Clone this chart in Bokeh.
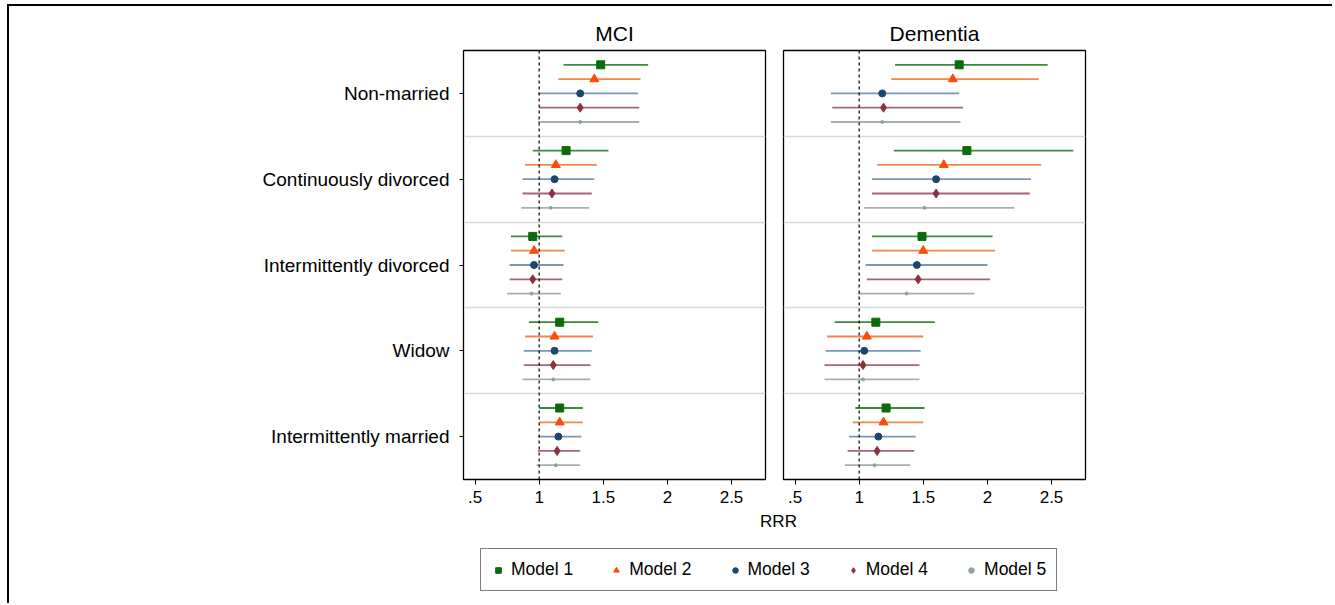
from bokeh.plotting import figure
from bokeh.models import (Range1d, FixedTicker, Span, Label, Legend, LegendItem,
                          ColumnDataSource)
from bokeh.layouts import row, column
from bokeh.embed import file_html
from bokeh.resources import INLINE

FONT = "Liberation Sans"

categories = ["Non-married", "Continuously divorced", "Intermittently divorced",
              "Widow", "Intermittently married"]
models = ["Model 1", "Model 2", "Model 3", "Model 4", "Model 5"]

# MCI: point estimates and confidence bounds, rows = categories, cols = models
mci_rrr = [[1.48, 1.43, 1.32, 1.32, 1.32],
           [1.21, 1.13, 1.12, 1.10, 1.09],
           [0.95, 0.96, 0.96, 0.95, 0.94],
           [1.16, 1.12, 1.12, 1.11, 1.11],
           [1.16, 1.16, 1.15, 1.14, 1.13]]
mci_lo = [[1.19, 1.15, 0.99, 1.00, 0.99],
          [0.95, 0.89, 0.87, 0.87, 0.86],
          [0.78, 0.78, 0.77, 0.77, 0.75],
          [0.92, 0.89, 0.88, 0.88, 0.87],
          [1.00, 1.00, 0.99, 0.99, 0.98]]
mci_hi = [[1.85, 1.79, 1.77, 1.78, 1.78],
          [1.54, 1.45, 1.43, 1.41, 1.39],
          [1.18, 1.20, 1.19, 1.18, 1.17],
          [1.46, 1.42, 1.41, 1.40, 1.40],
          [1.34, 1.34, 1.33, 1.32, 1.32]]

# Dementia
dem_rrr = [[1.78, 1.73, 1.18, 1.19, 1.18],
           [1.84, 1.66, 1.60, 1.60, 1.51],
           [1.49, 1.50, 1.45, 1.46, 1.37],
           [1.13, 1.06, 1.04, 1.03, 1.03],
           [1.21, 1.19, 1.15, 1.14, 1.12]]
dem_lo = [[1.28, 1.25, 0.78, 0.79, 0.78],
          [1.27, 1.14, 1.10, 1.10, 1.04],
          [1.10, 1.10, 1.05, 1.06, 0.99],
          [0.81, 0.75, 0.74, 0.73, 0.73],
          [0.97, 0.95, 0.92, 0.91, 0.89]]
dem_hi = [[2.47, 2.40, 1.78, 1.81, 1.79],
          [2.67, 2.42, 2.34, 2.33, 2.21],
          [2.04, 2.06, 2.00, 2.02, 1.90],
          [1.59, 1.50, 1.48, 1.47, 1.47],
          [1.51, 1.50, 1.44, 1.43, 1.40]]

x_ticks = [0.5, 1, 1.5, 2, 2.5]
x_tick_labels = [".5", "1", "1.5", "2", "2.5"]

marker_types = ["square", "triangle", "circle", "diamond", "circle"]
marker_colors = ["#0b6b0b", "#ff4a0a", "#1a476f", "#8c2f3f", "#8fa39c"]
line_colors = ["#3d8a3d", "#f4864a", "#7a98b6", "#a4667a", "#a3b1ad"]
marker_sizes = [8, 9, 7, 9, 3]

N_ROWS = len(models)
GROUP = N_ROWS + 1
Y_MAX = GROUP * len(categories)


def row_y(g, m):
    return g * GROUP + 1 + m


def make_panel(title, rrr, lo, hi, width, border_left, border_right, show_y):
    p = figure(width=width, height=504, output_backend="svg", toolbar_location=None,
               x_range=Range1d(0.41, 2.765), y_range=Range1d(Y_MAX, 0),
               min_border_left=border_left, min_border_right=border_right,
               min_border_top=44, min_border_bottom=31)
    p.title.text = title
    p.title.align = "center"
    p.title.text_font = FONT
    p.title.text_font_size = "21px"
    p.title.text_font_style = "normal"
    p.title.text_color = "black"
    p.title.standoff = 11
    p.outline_line_color = "black"
    p.outline_line_width = 1.3
    p.background_fill_color = "white"
    p.border_fill_color = "white"

    p.xgrid.visible = False
    p.ygrid.ticker = FixedTicker(ticks=[GROUP * k for k in range(1, len(categories))])
    p.ygrid.grid_line_color = "#d8d8d8"
    p.ygrid.grid_line_width = 1.5

    p.xaxis.ticker = FixedTicker(ticks=x_ticks)
    p.xaxis.major_label_overrides = {t: l for t, l in zip(x_ticks, x_tick_labels)}
    p.xaxis.major_label_text_font = FONT
    p.xaxis.major_label_text_font_size = "17px"
    p.xaxis.major_label_text_color = "black"
    p.xaxis.major_tick_out = 5
    p.xaxis.major_tick_in = 0
    p.xaxis.minor_tick_line_color = None
    p.xaxis.axis_line_color = "black"
    p.xaxis.major_label_standoff = 6

    if show_y:
        centers = [g * GROUP + (N_ROWS + 1) / 2 for g in range(len(categories))]
        p.yaxis.ticker = FixedTicker(ticks=centers)
        p.yaxis.major_label_overrides = {c: n for c, n in zip(centers, categories)}
        p.yaxis.major_label_text_font = FONT
        p.yaxis.major_label_text_font_size = "19px"
        p.yaxis.major_label_text_color = "black"
        p.yaxis.major_tick_out = 4
        p.yaxis.major_tick_in = 0
        p.yaxis.minor_tick_line_color = None
        p.yaxis.axis_line_color = "black"
        p.yaxis.major_label_standoff = 10
    else:
        p.yaxis.visible = False

    p.add_layout(Span(location=1, dimension="height", line_color="black",
                      line_dash="3 3", line_width=1.2))

    for m in range(N_ROWS):
        ys = [row_y(g, m) for g in range(len(categories))]
        src = ColumnDataSource(dict(
            y=ys,
            est=[rrr[g][m] for g in range(len(categories))],
            lo=[lo[g][m] for g in range(len(categories))],
            hi=[hi[g][m] for g in range(len(categories))]))
        p.segment(x0="lo", x1="hi", y0="y", y1="y", source=src,
                  line_color=line_colors[m], line_width=1.8)
        p.scatter(x="est", y="y", source=src, marker=marker_types[m],
                  size=marker_sizes[m], fill_color=marker_colors[m],
                  line_color=marker_colors[m])
    return p


p1 = make_panel("MCI", mci_rrr, mci_lo, mci_hi, 765, 454, 9, True)
p2 = make_panel("Dementia", dem_rrr, dem_lo, dem_hi, 558, 9, 247, False)

# bottom area: axis title and legend
BW, BH = 1323, 93
pb = figure(width=BW, height=BH, output_backend="svg", toolbar_location=None,
            x_range=Range1d(0, BW), y_range=Range1d(BH, 0),
            min_border=0, min_border_left=0, min_border_right=0,
            min_border_top=0, min_border_bottom=0)
pb.axis.visible = False
pb.grid.visible = False
pb.outline_line_color = None
pb.add_layout(Label(x=769, y=11, text="RRR", text_align="center",
                    text_baseline="middle", text_font=FONT,
                    text_font_size="17px", text_color="black"))

nan = float("nan")
items = []
for m in range(N_ROWS):
    src = ColumnDataSource(dict(x=[nan], y=[nan]))
    r = pb.scatter(x="x", y="y", source=src, marker=marker_types[m],
                   size=6 if m != 4 else 3, fill_color=marker_colors[m],
                   line_color=marker_colors[m])
    items.append(LegendItem(label=models[m], renderers=[r]))

leg = Legend(items=items, orientation="horizontal", location=(471, 12),
             label_text_font=FONT, label_text_font_size="17.5px",
             label_text_color="black", glyph_width=14, glyph_height=14,
             label_standoff=6, spacing=36, padding=10, margin=0,
             border_line_color="black", border_line_width=1,
             background_fill_color="white", background_fill_alpha=1)
pb.add_layout(leg)

layout = column(row(p1, p2), pb,
                styles={"margin-left": "7px", "margin-top": "4px",
                        "border-top": "2px solid black",
                        "border-left": "2px solid black"})

open("out.html", "w").write(file_html(layout, INLINE))
